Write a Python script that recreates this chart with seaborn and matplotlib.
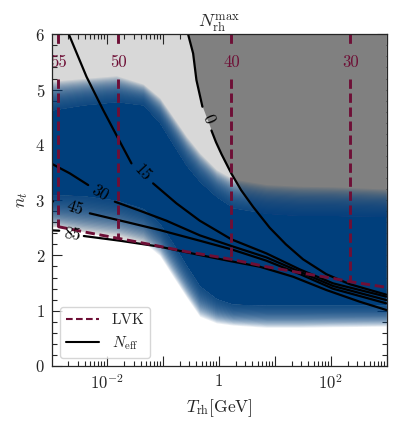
import numpy as np
import matplotlib
matplotlib.use("Agg")
import matplotlib.pyplot as plt
import seaborn as sns
from matplotlib.lines import Line2D
from matplotlib.ticker import FixedLocator, FixedFormatter, LogLocator, NullFormatter, MultipleLocator

# ---------------- data (x in log10(T_rh/GeV)) ----------------
# LVK bound on n_t
lvk_logT = [-2.869, -2.363, -1.798, -1.173, -0.577, -0.042, 0.226, 0.851, 1.446, 2.042, 2.351, 2.994]
lvk_nt = [2.520, 2.417, 2.309, 2.188, 2.068, 1.977, 1.929, 1.796, 1.688, 1.585, 1.525, 1.423]

# N_rh^max reference lines (vertical)
nrh_levels = ["55", "50", "40", "30"]
nrh_logT = [-2.869, -1.798, 0.226, 2.351]
nrh_bottom = [2.520, 2.309, 1.929, 1.525]

# N_eff contours: segment before label, label position/angle, segment after label
neff_levels = ["0", "15", "30", "45", "85"]
neff_a_logT = [
    [-0.548, -0.458, -0.399, -0.292],
    [-2.679, -2.363, -2.065, -1.798, -1.560],
    [-2.976, -2.661, -2.333],
    [-2.976, -2.960],
    [-2.976, -2.851],
]
neff_a_nt = [
    [6.0, 5.654, 5.172, 4.690],
    [6.0, 5.232, 4.629, 4.117, 3.665],
    [3.653, 3.484, 3.273],
    [2.984, 2.976],
    [2.453, 2.447],
]
neff_lab_logT = [-0.185, -1.363, -2.125, -2.571, -2.613]
neff_lab_nt = [4.467, 3.496, 3.134, 2.851, 2.381]
neff_lab_rot = [-67, -47, -30, -18, -8]
neff_b_logT = [
    [-0.131, -0.050, 0.050, 0.226, 0.400, 0.613, 0.911, 1.200, 1.506, 1.923, 2.339, 2.994],
    [-1.173, -0.756, -0.339, 0.226, 0.851, 1.446, 2.042, 2.994],
    [-1.857, -1.411, -0.935, -0.339, 0.226, 0.851, 1.446, 2.042, 2.994],
    [-2.304, -1.649, -1.054, -0.339, 0.226, 0.851, 1.446, 2.042, 2.994],
    [-2.411, -1.768, -1.054, -0.339, 0.226, 0.732, 1.327, 1.923, 2.518, 2.994],
]
neff_b_nt = [
    [4.260, 4.050, 3.830, 3.480, 3.180, 2.880, 2.500, 2.200, 1.930, 1.660, 1.480, 1.290],
    [3.303, 2.942, 2.628, 2.291, 2.037, 1.748, 1.495, 1.254],
    [2.972, 2.809, 2.628, 2.363, 2.170, 1.965, 1.706, 1.447, 1.193],
    [2.761, 2.604, 2.459, 2.266, 2.110, 1.905, 1.664, 1.398, 1.133],
    [2.351, 2.266, 2.158, 2.007, 1.893, 1.796, 1.615, 1.374, 1.163, 1.013],
]

# sampled-point cloud: edges of the dense core and of the sparse fringe
band_logT = [-2.976, -2.423, -1.827, -1.351, -1.054, -0.815, -0.577, -0.339, -0.042, 0.256, 0.851, 1.446, 2.042, 2.994]
core_upper = [4.63, 4.72, 4.78, 4.72, 4.39, 4.00, 3.62, 3.33, 3.06, 2.86, 2.76, 2.72, 2.72, 2.70]
fringe_upper = [5.15, 5.20, 5.25, 5.10, 4.85, 4.50, 4.15, 3.85, 3.55, 3.38, 3.28, 3.25, 3.24, 3.20]
core_lower = [3.10, 3.08, 3.00, 2.85, 2.58, 2.22, 1.82, 1.45, 1.22, 1.12, 1.10, 1.10, 1.10, 1.10]
fringe_lower = [2.55, 2.45, 2.38, 2.25, 2.00, 1.62, 1.25, 0.90, 0.78, 0.74, 0.70, 0.70, 0.71, 0.72]

xtick_vals = [1e-3, 1e-2, 1e-1, 1, 1e1, 1e2, 1e3]
xtick_labels = ["", "$10^{-2}$", "", "$1$", "", "$10^{2}$", ""]

# ---------------- style ----------------
sns.set_style("ticks")
plt.rcParams.update({
    "font.family": "serif",
    "font.serif": ["cmr10", "DejaVu Serif"],
    "mathtext.fontset": "cm",
    "axes.formatter.use_mathtext": True,
    "axes.unicode_minus": False,
    "axes.linewidth": 0.9,
})

MAROON = "#6e0f36"
BLUE = "#003f7c"
LGRAY = "#d8d8d8"
DGRAY = "#808080"

fig = plt.figure(figsize=(3.99, 4.28), dpi=100)
ax = fig.add_axes([0.1303, 0.1449, 0.969 - 0.1303, 0.9199 - 0.1449])
ax.set_xscale("log")
XMIN, XMAX = 10 ** -2.98, 10 ** 3.0
ax.set_xlim(XMIN, XMAX)
ax.set_ylim(0, 6)

T = lambda a: 10 ** np.asarray(a, dtype=float)

# light grey: region excluded by LVK (above the bound)
lx = np.concatenate([[np.log10(XMIN)], lvk_logT])
ly = np.concatenate([[lvk_nt[0]], lvk_nt])
ax.fill_between(T(lx), ly, 6, color=LGRAY, lw=0, zorder=0.5)

# dark grey: region beyond the N_eff = 0 contour
x0 = np.concatenate([neff_a_logT[0], neff_b_logT[0]])
y0 = np.concatenate([neff_a_nt[0], neff_b_nt[0]])
ax.fill_between(T(x0), y0, 6, color=DGRAY, lw=0, zorder=0.6)

# point cloud: solid core + graded fringe
bx = T(band_logT)
cu, fu = np.array(core_upper), np.array(fringe_upper)
cl, fl = np.array(core_lower), np.array(fringe_lower)
ax.fill_between(bx, cl, cu, color=BLUE, lw=0, zorder=1)
K = 26
for k in range(1, K + 1):
    t = k / K
    ax.fill_between(bx, cu, cu + (fu - cu) * t, color=BLUE, alpha=0.085, lw=0, zorder=1)
    ax.fill_between(bx, cl - (cl - fl) * t, cl, color=BLUE, alpha=0.085, lw=0, zorder=1)

# N_eff contours
for i, lev in enumerate(neff_levels):
    sns.lineplot(x=T(neff_a_logT[i]), y=neff_a_nt[i], sort=False, estimator=None,
                 color="black", lw=1.6, ax=ax, zorder=3)
    sns.lineplot(x=T(neff_b_logT[i]), y=neff_b_nt[i], sort=False, estimator=None,
                 color="black", lw=1.6, ax=ax, zorder=3)
    ax.text(T(neff_lab_logT[i]), neff_lab_nt[i], lev, rotation=neff_lab_rot[i],
            rotation_mode="anchor", ha="center", va="center", fontsize=12,
            color="black", zorder=5)

# LVK dashed bound
dash = (0, (3.2, 1.6))
sns.lineplot(x=T(lvk_logT), y=lvk_nt, sort=False, estimator=None, color=MAROON,
             lw=2.1, ax=ax, zorder=4, linestyle="--")
ax.lines[-1].set_linestyle(dash)

# N_rh^max vertical lines with labels
LAB_Y, GAP_TOP, GAP_BOT = 5.5, 5.775, 5.20
for lev, lx_, lb in zip(nrh_levels, nrh_logT, nrh_bottom):
    for (ya, yb) in [(6.0, GAP_TOP), (GAP_BOT, lb)]:
        ax.plot([T(lx_), T(lx_)], [ya, yb], color=MAROON, lw=2.1, ls=dash, zorder=4)
    ax.text(T(lx_), LAB_Y, lev, ha="center", va="center", fontsize=12,
            color=MAROON, zorder=5, clip_on=True)

# axes formatting
ax.xaxis.set_major_locator(FixedLocator(xtick_vals))
ax.xaxis.set_major_formatter(FixedFormatter(xtick_labels))
ax.xaxis.set_minor_locator(LogLocator(base=10, subs=np.arange(2, 10), numticks=30))
ax.xaxis.set_minor_formatter(NullFormatter())
ax.yaxis.set_major_locator(MultipleLocator(1))
ax.yaxis.set_minor_locator(MultipleLocator(0.2))
ax.tick_params(which="both", direction="in", top=True, right=True, labelsize=12, width=0.8)
ax.tick_params(which="major", length=7, pad=5)
ax.tick_params(which="minor", length=3.5)
for s in ax.spines.values():
    s.set_zorder(6)

ax.set_xlabel(r"$T_{\rm rh}[{\rm GeV}]$", fontsize=12.5, labelpad=4)
ax.set_ylabel(r"$n_t$", fontsize=12.5, labelpad=4)
ax.set_title(r"$N_{\rm rh}^{\rm max}$", fontsize=13, pad=3)

handles = [Line2D([], [], color=MAROON, lw=1.5, ls=(0, (3.2, 1.6))),
           Line2D([], [], color="black", lw=1.5)]
leg = ax.legend(handles, ["LVK", r"$N_{\rm eff}$"], loc="lower left", fontsize=11,
                handlelength=2.2, borderaxespad=0.5, frameon=True, fancybox=True)
leg.get_frame().set_edgecolor("0.8")
leg.set_zorder(7)

fig.savefig("out.png", dpi=100)
